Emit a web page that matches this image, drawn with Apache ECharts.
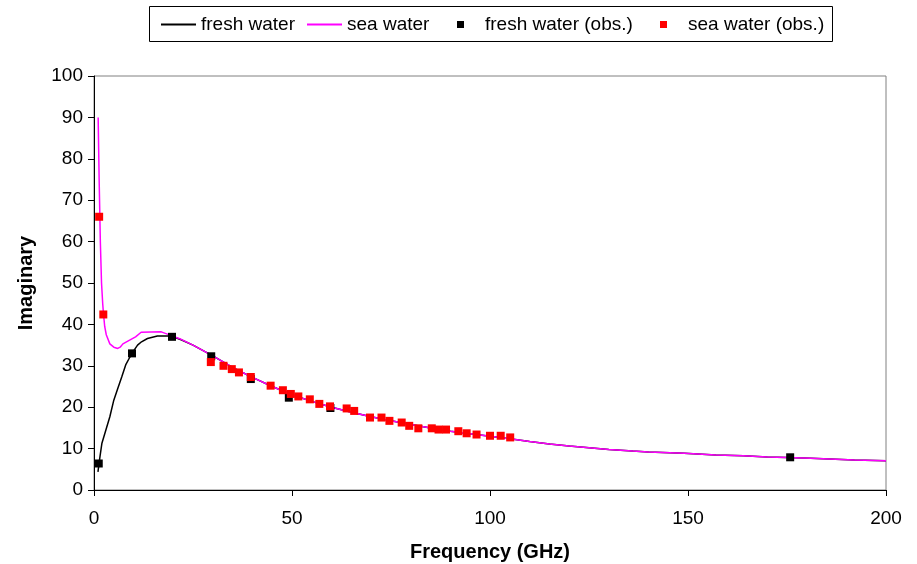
<!DOCTYPE html>
<html>
<head>
<meta charset="utf-8">
<script src="https://cdn.jsdelivr.net/npm/echarts@6/dist/echarts.min.js"></script>
<style>
  html, body { margin: 0; padding: 0; background: #fff; }
  #chart { width: 917px; height: 564px; }
</style>
</head>
<body>
<div id="chart"></div>
<script>
// model curves
var freshFreq = [1, 1.5, 2, 3, 4, 5, 6, 7, 8, 9, 10, 11, 12, 13.5, 16, 19.5, 22, 25, 30, 35, 40, 45, 50, 55, 60, 65, 70, 75, 80, 85, 90, 95, 100, 105, 110, 115, 120, 125, 130, 136, 140, 149, 157, 164, 170, 175, 181, 192, 200];
var freshVal = [4.4, 8, 11.3, 14.5, 17.7, 21.7, 24.5, 27.3, 30.2, 32, 33.6, 35, 35.8, 36.6, 37.2, 37.2, 36.3, 35, 32.4, 29.6, 27.2, 25, 23, 21.4, 20, 18.8, 17.7, 16.7, 15.8, 15, 14.2, 13.6, 13, 12.4, 11.7, 11.1, 10.6, 10.2, 9.8, 9.4, 9.2, 8.85, 8.45, 8.3, 8.0, 7.85, 7.65, 7.25, 7.05];

var seaFreq = [1.05, 1.3, 1.6, 1.9, 2.2, 2.4, 2.7, 3.1, 4, 5, 6, 6.6, 7.3, 9, 10.5, 11.9, 17, 19.5, 22, 25, 30, 35, 40, 45, 50, 55, 60, 65, 70, 75, 80, 85, 90, 95, 100, 105, 110, 115, 120, 125, 130, 136, 140, 149, 157, 164, 170, 175, 181, 192, 200];
var seaVal = [90, 75, 60, 50, 45, 42.5, 39.5, 37.5, 35.3, 34.5, 34.2, 34.5, 35.3, 36.2, 37, 38.1, 38.2, 37.3, 36.4, 35, 32.4, 29.6, 27.2, 25, 23, 21.4, 20, 18.8, 17.7, 16.7, 15.8, 15, 14.2, 13.6, 13, 12.4, 11.7, 11.1, 10.6, 10.2, 9.8, 9.4, 9.2, 8.85, 8.45, 8.3, 8.0, 7.85, 7.65, 7.25, 7.05];

// measurements
var freshObsFreq = [1.2, 9.6, 19.7, 29.6, 39.6, 49.2, 59.7, 175.8];
var freshObsVal = [6.4, 33.0, 37.0, 32.3, 26.8, 22.3, 19.8, 7.9];

var seaObsFreq = [1.3, 2.35, 29.5, 32.7, 34.8, 36.6, 39.6, 44.6, 47.7, 49.7, 51.6, 54.5, 56.9, 59.6, 63.8, 65.7, 69.7, 72.6, 74.6, 77.7, 79.6, 81.9, 85.3, 87.0, 88.9, 92.0, 94.1, 96.6, 100.0, 102.7, 105.1];
var seaObsVal = [66.0, 42.4, 30.9, 30.0, 29.2, 28.4, 27.3, 25.2, 24.1, 23.2, 22.6, 21.9, 20.8, 20.2, 19.7, 19.1, 17.5, 17.5, 16.7, 16.3, 15.5, 14.9, 14.9, 14.6, 14.6, 14.2, 13.7, 13.4, 13.1, 13.1, 12.7];

var xTicks = [0, 50, 100, 150, 200];
var yTicks = [0, 10, 20, 30, 40, 50, 60, 70, 80, 90, 100];

function zip(a, b) {
    var out = [];
    for (var i = 0; i < a.length; i++) out.push([a[i], b[i]]);
    return out;
}

var font = 'Liberation Sans, Arial, sans-serif';
var txt = { fontFamily: font, fontSize: 19, color: '#000' };
var titleTxt = { fontFamily: font, fontSize: 20, fontWeight: 'bold', color: '#000' };

var chart = echarts.init(document.getElementById('chart'));
chart.setOption({
    animation: false,
    backgroundColor: '#fff',
    grid: { left: 94, right: 31, top: 76, bottom: 74, show: true, borderColor: '#808080', borderWidth: 1,
            outerBoundsMode: 'none', containLabel: false },
    legend: [
        { data: ['fresh water'], left: 156, top: 10, itemWidth: 35, itemHeight: 2, icon: 'rect', textStyle: txt },
        { data: ['sea water'], left: 302, top: 10, itemWidth: 35, itemHeight: 2, icon: 'rect', textStyle: txt },
        { data: ['fresh water (obs.)'], left: 452, top: 10, itemWidth: 7, itemHeight: 7, icon: 'rect',
          textStyle: Object.assign({ padding: [0, 0, 0, 16] }, txt) },
        { data: ['sea water (obs.)'], left: 655, top: 10, itemWidth: 7, itemHeight: 7, icon: 'rect',
          textStyle: Object.assign({ padding: [0, 0, 0, 16] }, txt) }
    ],
    graphic: [{
        type: 'rect', silent: true,
        shape: { x: 149.5, y: 6.5, width: 683, height: 35 },
        style: { fill: 'none', stroke: '#000', lineWidth: 1 }
    }],
    xAxis: {
        type: 'value', min: xTicks[0], max: xTicks[xTicks.length - 1], interval: 50,
        name: 'Frequency (GHz)', nameLocation: 'middle', nameGap: 52,
        nameTextStyle: titleTxt,
        axisLine: { onZero: false, lineStyle: { color: '#000', width: 1 } },
        axisTick: { length: 6, lineStyle: { color: '#000' } },
        axisLabel: Object.assign({ margin: 19 }, txt),
        splitLine: { show: false }
    },
    yAxis: {
        type: 'value', min: yTicks[0], max: yTicks[yTicks.length - 1], interval: 10,
        name: 'Imaginary', nameLocation: 'middle', nameGap: 58, nameRotate: 90,
        nameTextStyle: titleTxt,
        axisLine: { onZero: false, lineStyle: { color: '#000', width: 1 } },
        axisTick: { length: 6, lineStyle: { color: '#000' } },
        axisLabel: Object.assign({ margin: 11 }, txt),
        splitLine: { show: false }
    },
    series: [
        { name: 'fresh water', type: 'line', data: zip(freshFreq, freshVal), showSymbol: false, symbol: 'none',
          lineStyle: { color: '#000', width: 1.5 }, itemStyle: { color: '#000' }, z: 2 },
        { name: 'sea water', type: 'line', data: zip(seaFreq, seaVal), showSymbol: false, symbol: 'none',
          lineStyle: { color: '#ff00ff', width: 1.5 }, itemStyle: { color: '#ff00ff' }, z: 3 },
        { name: 'fresh water (obs.)', type: 'scatter', data: zip(freshObsFreq, freshObsVal), symbol: 'rect',
          symbolSize: 8, itemStyle: { color: '#000', opacity: 1 }, z: 4 },
        { name: 'sea water (obs.)', type: 'scatter', data: zip(seaObsFreq, seaObsVal), symbol: 'rect',
          symbolSize: 8, itemStyle: { color: '#ff0000', opacity: 1 }, z: 5 }
    ]
});
</script>
</body>
</html>
